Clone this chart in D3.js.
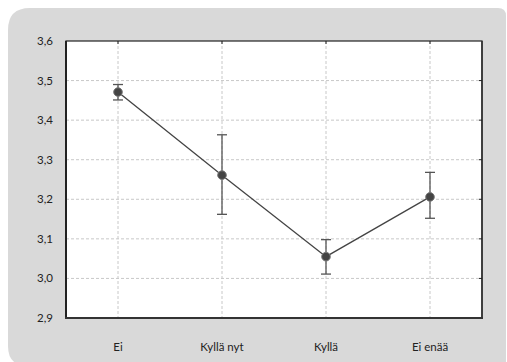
<!DOCTYPE html>
<html><head><meta charset="utf-8">
<script src="https://cdn.jsdelivr.net/npm/d3@7"></script>
<style>html,body{margin:0;padding:0;background:#fff;}svg{display:block;}</style>
</head><body>
<svg id="c" width="507" height="362"></svg>
<script>
const categories = ["Ei", "Kyllä nyt", "Kyllä", "Ei enää"];
const means = [3.471, 3.261, 3.055, 3.206];
const upper = [3.490, 3.363, 3.098, 3.268];
const lower = [3.451, 3.162, 3.011, 3.152];
const yTicks = [2.9, 3.0, 3.1, 3.2, 3.3, 3.4, 3.5, 3.6];

const svg = d3.select("#c");
const W = 507, H = 362;
const m = {l: 66, t: 41, r: 482, b: 318};

// background panel
const px0 = 8, py0 = 8, px1 = 506, py1 = 366, rTL = 22, rTR = 8, rBL = 20;
svg.append("path")
  .attr("d", `M${px0},${py0 + rTL} Q${px0},${py0} ${px0 + rTL},${py0} L${px1 - rTR},${py0} Q${px1},${py0} ${px1},${py0 + rTR} L${px1},${py1} L${px0 + rBL},${py1} Q${px0},${py1} ${px0},${py1 - rBL} Z`)
  .attr("fill", "#d9d9d9");

const x = d3.scalePoint().domain(categories).range([m.l, m.r]).padding(0.5);
const y = d3.scaleLinear().domain([2.9, 3.6]).range([m.b, m.t]);

svg.append("rect").attr("x", m.l).attr("y", m.t).attr("width", m.r - m.l).attr("height", m.b - m.t).attr("fill", "#fff");

// grid
const g = svg.append("g");
g.selectAll(".gy").data(yTicks.slice(1, -1)).join("line")
  .attr("x1", m.l).attr("x2", m.r).attr("y1", d => y(d)).attr("y2", d => y(d))
  .attr("stroke", "#c8c8c8").attr("stroke-width", 1).attr("stroke-dasharray", "3,2");
g.selectAll(".gx").data(categories).join("line")
  .attr("x1", d => x(d)).attr("x2", d => x(d)).attr("y1", m.t).attr("y2", m.b)
  .attr("stroke", "#c8c8c8").attr("stroke-width", 1).attr("stroke-dasharray", "3,2");

// frame
svg.append("rect").attr("x", m.l).attr("y", m.t).attr("width", m.r - m.l).attr("height", m.b - m.t)
  .attr("fill", "none").attr("stroke", "#222").attr("stroke-width", 1.2);
svg.append("line").attr("x1", m.l).attr("x2", m.l).attr("y1", m.t).attr("y2", m.b + 1).attr("stroke", "#222").attr("stroke-width", 2);
svg.append("line").attr("x1", m.l - 1).attr("x2", m.r + 1).attr("y1", m.b).attr("y2", m.b).attr("stroke", "#333").attr("stroke-width", 2);
svg.append("line").attr("x1", m.r).attr("x2", m.r).attr("y1", m.t).attr("y2", m.b).attr("stroke", "#333").attr("stroke-width", 1.6);

// mirrored ticks
const ta = svg.append("g");
ta.selectAll(".tt").data(categories).join("line")
  .attr("x1", d => x(d)).attr("x2", d => x(d)).attr("y1", m.t).attr("y2", m.t + 3)
  .attr("stroke", "#222").attr("stroke-width", 1);
ta.selectAll(".tr").data(yTicks.slice(1, -1)).join("line")
  .attr("x1", m.r - 3).attr("x2", m.r).attr("y1", d => y(d)).attr("y2", d => y(d))
  .attr("stroke", "#222").attr("stroke-width", 1);

// y axis labels
const fmt = d => d3.format(".1f")(d).replace(".", ",");
svg.append("g").selectAll("text").data(yTicks).join("text")
  .attr("x", 53).attr("y", d => y(d)).attr("dy", "0.35em")
  .attr("text-anchor", "end").attr("font-family", "Lato, sans-serif").attr("font-size", 11.5)
  .attr("fill", "#222").text(fmt);

// x axis labels
svg.append("g").selectAll("text").data(categories).join("text")
  .attr("x", d => x(d)).attr("y", 351)
  .attr("text-anchor", "middle").attr("font-family", "Lato, sans-serif").attr("font-size", 11.5)
  .attr("fill", "#222").text(d => d);

// line
const pts = categories.map((c, i) => [x(c), y(means[i])]);
svg.append("path").attr("d", d3.line()(pts)).attr("fill", "none").attr("stroke", "#444").attr("stroke-width", 1.3);

// error bars
const eb = svg.append("g").attr("stroke", "#555").attr("stroke-width", 1.3);
categories.forEach((c, i) => {
  const cx = x(c);
  eb.append("line").attr("x1", cx).attr("x2", cx).attr("y1", y(upper[i])).attr("y2", y(lower[i]));
  eb.append("line").attr("x1", cx - 5).attr("x2", cx + 5).attr("y1", y(upper[i])).attr("y2", y(upper[i]));
  eb.append("line").attr("x1", cx - 5).attr("x2", cx + 5).attr("y1", y(lower[i])).attr("y2", y(lower[i]));
});

// points
svg.append("g").selectAll("circle").data(categories).join("circle")
  .attr("cx", d => x(d)).attr("cy", (d, i) => y(means[i])).attr("r", 4.3)
  .attr("fill", "#444").attr("stroke", "#777").attr("stroke-width", 1);
</script>
</body></html>
